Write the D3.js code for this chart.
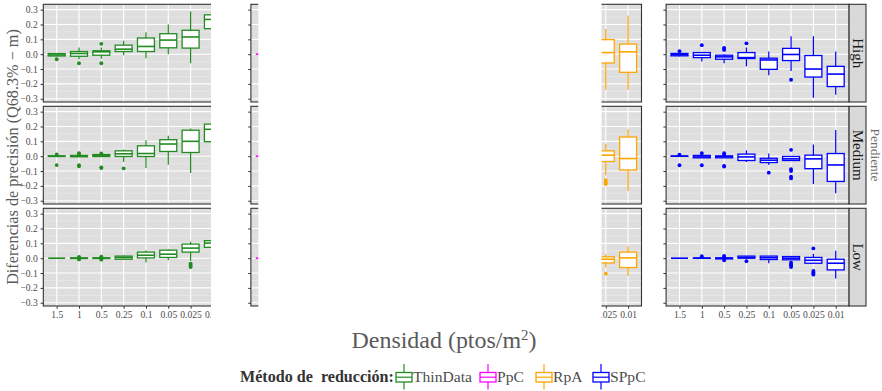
<!DOCTYPE html>
<html><head><meta charset="utf-8">
<script src="https://cdn.jsdelivr.net/npm/d3@7"></script>
<style>body{margin:0;background:#fff}svg{display:block}</style>
</head><body><svg id="c" width="882" height="391"></svg>
<script>
// ---------------- data ----------------
const categories = ["1.5","1","0.5","0.25","0.1","0.05","0.025","0.01"];
const methods = ["ThinData","PpC","RpA","SPpC"];
const slopes = ["High","Medium","Low"];
const methodColors = ["#228B22","#FF00FF","#FFA500","#0000FF"];
const yTicks = [-0.3,-0.2,-0.1,0,0.1,0.2,0.3];
const yTickLabels = ["\u22120.3","\u22120.2","\u22120.1","0.0","0.1","0.2","0.3"];
const xTitle = "Densidad (ptos/m";
const yTitle = "Diferencias de precisión (Q68.3% \u2212 m)";
const rowTitle = "Pendiente";
const legendTitle = "Método de  reducción:";
// each entry: [lower whisker, q1, median, q3, upper whisker, outliers]
const thinDataHigh = [
  [-0.014,-0.012,-0.005,0.004,0.008,[-0.034]],
  [-0.034,-0.014,0.005,0.018,0.045,[-0.061]],
  [-0.030,-0.007,0.016,0.023,0.045,[0.070,-0.061]],
  [-0.007,0.018,0.034,0.061,0.090,[]],
  [-0.027,0.018,0.052,0.109,0.147,[]],
  [0.000,0.043,0.095,0.138,0.200,[]],
  [-0.061,0.041,0.116,0.161,0.288,[]],
  [0.100,0.172,0.234,0.265,0.330,[]]
];
const thinDataMedium = [
  [-0.002,-0.002,0.000,0.002,0.004,[0.012,-0.060]],
  [-0.006,-0.004,0.000,0.005,0.010,[0.020,0.015,-0.060,-0.068]],
  [-0.004,-0.002,0.004,0.011,0.016,[0.018,-0.075,-0.080]],
  [-0.039,-0.002,0.016,0.036,0.045,[-0.082]],
  [-0.079,-0.002,0.018,0.070,0.107,[]],
  [-0.057,0.032,0.082,0.111,0.138,[]],
  [-0.113,0.025,0.100,0.175,0.186,[]],
  [0.030,0.098,0.181,0.216,0.300,[]]
];
const thinDataLow = [
  [0,0,0,0,0,[]],
  [-0.003,-0.002,0.000,0.002,0.003,[0.008,-0.008,0.004,-0.004]],
  [-0.003,-0.002,0.000,0.002,0.004,[0.010,-0.010,0.006,-0.006]],
  [-0.012,-0.007,0.005,0.014,0.020,[]],
  [-0.029,0.002,0.020,0.041,0.052,[]],
  [-0.014,0.005,0.027,0.054,0.061,[]],
  [-0.018,0.041,0.068,0.095,0.111,[-0.036,-0.045,-0.052,-0.060]],
  [0.050,0.073,0.102,0.118,0.140,[]]
];
const ppcHigh = [
  [0,0,0,0,0,[]],
  [-0.004,-0.002,0,0.002,0.004,[]],
  [-0.010,-0.004,0,0.004,0.010,[]],
  [-0.020,-0.008,0,0.008,0.020,[]],
  [-0.040,-0.015,0,0.015,0.040,[]],
  [-0.060,-0.020,0,0.025,0.060,[]],
  [-0.100,-0.030,0,0.035,0.100,[]],
  [-0.150,-0.050,0,0.050,0.150,[]]
];
const ppcMedium = [
  [0,0,0,0,0,[]],
  [-0.003,-0.001,0,0.001,0.003,[]],
  [-0.008,-0.003,0,0.003,0.008,[]],
  [-0.015,-0.006,0,0.006,0.015,[]],
  [-0.030,-0.010,0,0.012,0.030,[]],
  [-0.050,-0.015,0,0.018,0.050,[]],
  [-0.080,-0.025,0,0.025,0.080,[]],
  [-0.120,-0.040,0,0.040,0.120,[]]
];
const ppcLow = [
  [0,0,0,0,0,[]],
  [-0.002,-0.001,0,0.001,0.002,[]],
  [-0.005,-0.002,0,0.002,0.005,[]],
  [-0.010,-0.004,0,0.004,0.010,[]],
  [-0.020,-0.007,0,0.007,0.020,[]],
  [-0.030,-0.010,0,0.010,0.030,[]],
  [-0.050,-0.015,0,0.015,0.050,[]],
  [-0.080,-0.025,0,0.025,0.080,[]]
];
const rpaHigh = [
  [-0.004,-0.002,0,0.002,0.004,[]],
  [-0.010,-0.004,0,0.004,0.010,[]],
  [-0.020,-0.008,0,0.008,0.020,[]],
  [-0.040,-0.015,0,0.015,0.040,[]],
  [-0.080,-0.030,0,0.030,0.080,[]],
  [-0.150,-0.045,0.005,0.060,0.130,[]],
  [-0.240,-0.059,0.011,0.098,0.170,[]],
  [-0.240,-0.122,0.016,0.068,0.261,[]]
];
const rpaMedium = [
  [-0.003,-0.001,0,0.001,0.003,[]],
  [-0.008,-0.003,0,0.003,0.008,[]],
  [-0.015,-0.006,0,0.006,0.015,[]],
  [-0.030,-0.010,0,0.010,0.030,[]],
  [-0.050,-0.020,0,0.020,0.050,[]],
  [-0.090,-0.030,0,0.030,0.070,[]],
  [-0.129,-0.036,0.007,0.036,0.084,[-0.161,-0.175,-0.188]],
  [-0.234,-0.093,-0.016,0.129,0.181,[]]
];
const rpaLow = [
  [-0.002,-0.001,0,0.001,0.002,[]],
  [-0.004,-0.002,0,0.002,0.004,[]],
  [-0.008,-0.003,0,0.003,0.008,[]],
  [-0.015,-0.006,0,0.006,0.015,[]],
  [-0.025,-0.010,0,0.008,0.020,[]],
  [-0.040,-0.015,0,0.008,0.025,[]],
  [-0.063,-0.032,-0.007,0.009,0.027,[-0.104]],
  [-0.120,-0.063,0.002,0.041,0.082,[]]
];
const sppcHigh = [
  [-0.015,-0.011,-0.003,0.005,0.007,[0.020]],
  [-0.050,-0.023,-0.007,0.011,0.011,[0.061]],
  [-0.061,-0.034,-0.018,-0.007,0.000,[0.043,0.036,0.029]],
  [-0.082,-0.029,-0.023,0.011,0.045,[0.073]],
  [-0.141,-0.102,-0.039,-0.027,0.018,[]],
  [-0.113,-0.043,-0.002,0.039,0.120,[-0.172]],
  [-0.293,-0.154,-0.100,-0.009,0.120,[]],
  [-0.274,-0.218,-0.134,-0.082,0.018,[]]
];
const sppcMedium = [
  [-0.002,-0.001,0.000,0.001,0.002,[0.011,-0.061]],
  [-0.011,-0.011,-0.005,0.005,0.005,[0.020,-0.061]],
  [-0.011,-0.011,-0.003,0.002,0.002,[0.020,0.010,-0.065,-0.070]],
  [-0.039,-0.029,-0.005,0.014,0.039,[]],
  [-0.059,-0.043,-0.027,-0.014,0.018,[-0.111]],
  [-0.029,-0.029,-0.018,-0.002,-0.002,[0.043,-0.088,-0.100,-0.138,-0.150]],
  [-0.188,-0.084,-0.018,0.007,0.079,[]],
  [-0.249,-0.170,-0.059,0.018,0.177,[]]
];
const sppcLow = [
  [0,0,0,0,0,[]],
  [-0.001,-0.001,0,0.001,0.001,[0.013]],
  [-0.007,-0.005,0,0.002,0.004,[0.015,0.008,-0.014]],
  [-0.004,0.000,0.005,0.014,0.014,[-0.020]],
  [-0.034,-0.009,0.003,0.014,0.014,[]],
  [-0.011,-0.011,0.000,0.011,0.011,[-0.030,-0.040,-0.050,-0.060]],
  [-0.034,-0.034,-0.014,0.005,0.030,[0.066,-0.086,-0.095,-0.104,-0.110]],
  [-0.136,-0.079,-0.034,-0.007,0.050,[]]
];
const boxData = [
  [thinDataHigh, ppcHigh, rpaHigh, sppcHigh],
  [thinDataMedium, ppcMedium, rpaMedium, sppcMedium],
  [thinDataLow, ppcLow, rpaLow, sppcLow]
];

// ---------------- layout ----------------
const svg = d3.select("#c");
const serif = "'Liberation Serif', 'DejaVu Serif', serif";
const plotL = 43.3, panelW = 183, gapX = 24.6;
const plotT = 4.3, panelH = 97.7, gapY = 4.3;
const stripW = 16.9;
const panelX = i => plotL + i * (panelW + gapX);
const panelY = r => plotT + r * (panelH + gapY);

const x = d3.scalePoint().domain(categories).range([0, panelW]).padding(0.6);
const y = d3.scaleLinear().domain([-0.322, 0.336]).range([panelH, 0]);
const boxW = x.step() * 0.76;
const minorTicks = [-0.25,-0.15,-0.05,0.05,0.15,0.25];

function fit(sel, w) {
  const L = sel.node().getComputedTextLength();
  const fs = parseFloat(sel.attr("font-size"));
  sel.attr("font-size", (fs * w / L).toFixed(2));
  return fs * w / L;
}

slopes.forEach((s, r) => {
  methods.forEach((m, c) => {
    const g = svg.append("g").attr("transform", `translate(${panelX(c)},${panelY(r)})`);
    g.append("rect").attr("width", panelW).attr("height", panelH).attr("fill", "#DEDEDE");
    g.selectAll(".mn").data(minorTicks).join("line")
      .attr("x1", 0).attr("x2", panelW).attr("y1", d => y(d)).attr("y2", d => y(d))
      .attr("stroke", "#EDEDED").attr("stroke-width", 0.6);
    g.selectAll(".mj").data(yTicks).join("line")
      .attr("x1", 0).attr("x2", panelW).attr("y1", d => y(d)).attr("y2", d => y(d))
      .attr("stroke", "#FFFFFF").attr("stroke-width", 1.1);
    g.selectAll(".vx").data(categories).join("line")
      .attr("x1", d => x(d)).attr("x2", d => x(d)).attr("y1", 0).attr("y2", panelH)
      .attr("stroke", "#FFFFFF").attr("stroke-width", 1.1);

    const col = methodColors[c];
    const bx = g.selectAll(".bx").data(boxData[r][c]).join("g")
      .attr("transform", (d, i) => `translate(${x(categories[i])},0)`);
    bx.append("line").attr("x1", 0).attr("x2", 0)
      .attr("y1", d => y(d[4])).attr("y2", d => y(d[3]))
      .attr("stroke", col).attr("stroke-width", 1.2);
    bx.append("line").attr("x1", 0).attr("x2", 0)
      .attr("y1", d => y(d[1])).attr("y2", d => y(d[0]))
      .attr("stroke", col).attr("stroke-width", 1.2);
    bx.append("rect").attr("x", -boxW / 2).attr("width", boxW)
      .attr("y", d => y(d[3])).attr("height", d => Math.max(0, y(d[1]) - y(d[3])))
      .attr("fill", "#FFFFFF").attr("stroke", col).attr("stroke-width", 1.3);
    bx.append("line").attr("x1", -boxW / 2).attr("x2", boxW / 2)
      .attr("y1", d => y(d[2])).attr("y2", d => y(d[2]))
      .attr("stroke", col).attr("stroke-width", 1.6);
    bx.selectAll("circle").data(d => d[5]).join("circle")
      .attr("cx", 0).attr("cy", d => y(d)).attr("r", 1.9).attr("fill", col);

    g.append("rect").attr("width", panelW).attr("height", panelH)
      .attr("fill", "none").attr("stroke", "#333333").attr("stroke-width", 1.1);

    const ya = d3.axisLeft(y).tickValues(yTicks).tickSize(2.7)
      .tickFormat((d, i) => c === 0 ? yTickLabels[i] : "");
    const yg = g.append("g").call(ya);
    yg.select(".domain").remove();
    yg.selectAll(".tick line").attr("stroke", "#333333").attr("stroke-width", 1);
    yg.selectAll(".tick text").attr("font-family", serif).attr("font-size", 9.6)
      .attr("fill", "#4D4D4D").attr("x", -5.5);

    if (r === 2) {
      const xa = d3.axisBottom(x).tickSize(2.7);
      const xg = g.append("g").attr("transform", `translate(0,${panelH})`).call(xa);
      xg.select(".domain").remove();
      xg.selectAll(".tick line").attr("stroke", "#333333");
      xg.selectAll(".tick text").attr("font-family", serif).attr("font-size", 9.6)
        .attr("fill", "#4D4D4D").attr("y", 5);
    }
  });
  // strip
  const sx = panelX(3) + panelW;
  const sg = svg.append("g").attr("transform", `translate(${sx},${panelY(r)})`);
  sg.append("rect").attr("width", stripW).attr("height", panelH)
    .attr("fill", "#D9D9D9").attr("stroke", "#333333").attr("stroke-width", 1.1);
  sg.append("text").text(s)
    .attr("transform", `translate(${stripW / 2},${panelH / 2}) rotate(90)`)
    .attr("text-anchor", "middle").attr("dominant-baseline", "central")
    .attr("font-family", serif).attr("font-size", 15).attr("fill", "#1A1A1A");
});

// white cut-outs present in the reference picture
svg.append("rect").attr("x", 211).attr("y", 0).attr("width", 35.5).attr("height", 323).attr("fill", "#FFFFFF");
svg.append("rect").attr("x", 258.3).attr("y", 0).attr("width", 343.2).attr("height", 323).attr("fill", "#FFFFFF");

// axis titles
const xt = svg.append("text").attr("x", 444).attr("y", 348)
  .attr("text-anchor", "middle").attr("font-family", serif).attr("font-size", 21).attr("fill", "#5A5A5A");
xt.append("tspan").text(xTitle);
xt.append("tspan").text("2").attr("dy", -8).attr("font-size", "0.62em");
xt.append("tspan").text(")").attr("dy", 8);
fit(xt, 185);

const yt = svg.append("text").text(yTitle)
  .attr("transform", "translate(12.5,157) rotate(-90)")
  .attr("text-anchor", "middle").attr("dominant-baseline", "central")
  .attr("font-family", serif).attr("font-size", 15.5).attr("fill", "#5A5A5A");
fit(yt, 256);

svg.append("text").text(rowTitle)
  .attr("transform", "translate(875,155) rotate(90)")
  .attr("text-anchor", "middle").attr("dominant-baseline", "central")
  .attr("font-family", serif).attr("font-size", 13.5).attr("fill", "#6E6E6E");

// legend
const lt = svg.append("text").text(legendTitle).attr("x", 240).attr("y", 382)
  .attr("font-family", serif).attr("font-size", 14).attr("font-weight", "bold").attr("fill", "#333333")
  .attr("xml:space", "preserve").style("white-space", "pre");
fit(lt, 154);
const keyCenters = [404, 488, 544, 601];
const legend = svg.append("g").selectAll("g").data(methods).join("g")
  .attr("transform", (d, i) => `translate(${keyCenters[i]},0)`);
legend.append("line").attr("x1", 0).attr("x2", 0).attr("y1", 364).attr("y2", 389.5)
  .attr("stroke", (d, i) => methodColors[i]).attr("stroke-width", 1.2);
legend.append("rect").attr("x", -8).attr("width", 16).attr("y", 372.5).attr("height", 9.5)
  .attr("fill", "#FFFFFF").attr("stroke", (d, i) => methodColors[i]).attr("stroke-width", 1.3);
legend.append("line").attr("x1", -8).attr("x2", 8).attr("y1", 377.2).attr("y2", 377.2)
  .attr("stroke", (d, i) => methodColors[i]).attr("stroke-width", 1.2);
const ltexts = legend.append("text").text(d => d).attr("x", 9).attr("y", 382)
  .attr("font-family", serif).attr("font-size", 14).attr("fill", "#4D4D4D");
const fsL = fit(d3.select(ltexts.nodes()[0]), 59);
ltexts.attr("font-size", fsL.toFixed(2));
</script></body></html>
